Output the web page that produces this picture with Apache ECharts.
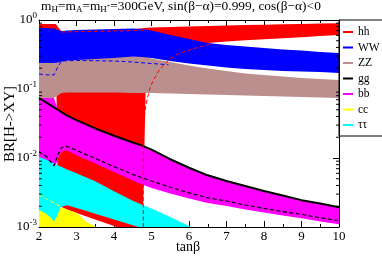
<!DOCTYPE html>
<html><head><meta charset="utf-8">
<script src="https://cdn.jsdelivr.net/npm/echarts@6/dist/echarts.min.js"></script>
<style>html,body{margin:0;padding:0;background:#fff}#c{width:382px;height:258px}</style>
</head><body><div id="c"></div>
<script>
// ---- data (tanβ grids and branching ratios) ----
const T = [2, 2.2, 2.4, 2.5, 2.6, 2.75, 3, 3.5, 4, 4.5, 4.75, 5, 5.5, 6, 6.5, 7, 7.5, 8, 8.5, 9, 9.5, 10];
const wwHi = [0.766, 0.766, 0.753, 0.716, 0.693, 0.704, 0.716, 0.728, 0.741, 0.753, 0.741, 0.704, 0.606, 0.530, 0.464, 0.434, 0.413, 0.393, 0.374, 0.361, 0.344, 0.332];
const wwLo = [0.238, 0.238, 0.238, 0.242, 0.250, 0.259, 0.263, 0.272, 0.281, 0.296, 0.291, 0.281, 0.255, 0.234, 0.219, 0.205, 0.195, 0.189, 0.182, 0.179, 0.176, 0.170];
const zzHi = [0.25, 0.25, 0.25, 0.255, 0.262, 0.27, 0.275, 0.284, 0.293, 0.308, 0.303, 0.277, 0.246, 0.219, 0.198, 0.182, 0.168, 0.160, 0.152, 0.144, 0.140, 0.135];
const zzLo = [0.0741, 0.0741, 0.0741, 0.0805, 0.0875, 0.089, 0.089, 0.089, 0.089, 0.0875, 0.0875, 0.0875, 0.0861, 0.0846, 0.0832, 0.0818, 0.0805, 0.0792, 0.0778, 0.0766, 0.0753, 0.0741];
const gg   = [0.0741, 0.0633, 0.0541, 0.05, 0.0461, 0.041, 0.0353, 0.0268, 0.021, 0.0168, 0.0151, 0.0132, 0.0096, 0.00723, 0.00561, 0.00463, 0.00392, 0.00332, 0.00286, 0.00245, 0.00219, 0.00193];
const bbHi = [0.0741, 0.0741, 0.0741, 0.05, 0.0461, 0.041, 0.0353, 0.0268, 0.021, 0.0168, 0.0151, 0.0132, 0.0096, 0.00723, 0.00561, 0.00463, 0.00392, 0.00332, 0.00286, 0.00245, 0.00219, 0.00193];
const bbMid = [0.0123, 0.0105, 0.00766, 0.0110, 0.0142, 0.0147, 0.0129, 0.00984, 0.0075, 0.0058, 0.00517, 0.00464, 0.00377, 0.00313, 0.00265, 0.00238, 0.00208, 0.00186, 0.00167, 0.00153, 0.00136, 0.00123];
const bbLo = [0.0085, 0.0075, 0.0062, 0.0097, 0.0124, 0.0128, 0.011, 0.0083, 0.00627, 0.00472, 0.00413, 0.00368, 0.00306, 0.00259, 0.00223, 0.00201, 0.00179, 0.00162, 0.00147, 0.00134, 0.0012, 0.0011];

const hhT  = [2, 2.45, 2.5, 2.6, 2.75, 3, 3.5, 4, 4.5, 4.76, 4.87, 5, 5.5, 6, 6.5, 7, 7.5, 8, 8.5, 9, 9.5, 10];
const hhHi = [0.875, 0.875, 0.80, 0.68, 0.68, 0.68, 0.68, 0.68, 0.73, 0.76, 0.77, 0.776, 0.792, 0.805, 0.818, 0.829, 0.843, 0.855, 0.866, 0.875, 0.887, 0.896];
const hhLo = [0.5, 0.5, 0.00201, 0.00195, 0.00179, 0.0016, 0.00128, 0.00103, 0.00082, 0.00072, 0.45, 0.45, 0.45, 0.45, 0.464, 0.488, 0.508, 0.527, 0.545, 0.563, 0.584, 0.606];
const hhMidT = [2.6, 3, 3.5, 4, 4.5, 4.85];
const hhMid  = [0.670, 0.677, 0.686, 0.693, 0.704, 0.716];
const hhMid2T = [4.78, 4.78, 4.83, 4.89, 4.96, 5.04, 5.17, 5.28, 5.49, 5.76, 6.1, 6.56];
const hhMid2  = [0.001, 0.0255, 0.0496, 0.0741, 0.1034, 0.1306, 0.176, 0.2084, 0.272, 0.332, 0.380, 0.449];
const wwMidT = [2, 2.2, 2.4, 2.5, 2.6, 3, 4, 4.5, 4.9, 5.2, 5.45];
const wwMid  = [0.165, 0.160, 0.160, 0.208, 0.2545, 0.259, 0.2545, 0.246, 0.236, 0.230, 0.225];

const tauT  = [2, 2.2, 2.3, 2.4, 2.5, 2.58, 2.75, 3, 3.5, 4, 4.5, 4.75, 5, 5.5, 6, 6.5];
const tauHi = [0.0103, 0.0094, 0.0088, 0.0083, 0.0078, 0.0075, 0.0068, 0.006, 0.0046, 0.0033, 0.0024, 0.0021, 0.00185, 0.0014, 0.00103, 0.00075];
const tauLo = [0.00176, 0.00154, 0.0014, 0.0012, 0.00152, 0.00195, 0.00206, 0.00188, 0.00155, 0.00128, 0.00106, 0.00097, 0.0008, 0.0006, 0.0004, 0.0003];

const ccT  = [2, 2.2, 2.4, 2.5, 2.6, 2.75, 3, 3.25, 3.5, 3.75];
const ccHi = [0.0019, 0.0018, 0.0017, 0.00195, 0.0019, 0.0018, 0.00161, 0.0012, 0.00102, 0.0008];
const ccLo = [0.0003, 0.0003, 0.0003, 0.0003, 0.0003, 0.0003, 0.0003, 0.0003, 0.0003, 0.0003];
const ccMidT = [2, 2.3, 2.59];
const ccMid  = [0.0029, 0.0024, 0.00195];

const xTicks = [2, 3, 4, 5, 6, 7, 8, 9, 10];
const yMinor = [0.002,0.003,0.004,0.005,0.006,0.007,0.008,0.009,0.02,0.03,0.04,0.05,0.06,0.07,0.08,0.09,0.2,0.3,0.4,0.5,0.6,0.7,0.8,0.9];
const legendNames = ['hh','WW','ZZ','gg','bb','cc','ττ'];
const colors = {hh:'#ff0000', WW:'#0000ff', ZZ:'#bc8f8f', gg:'#000000', bb:'#ff00ff', cc:'#ffff00', 'ττ':'#00ffff'};
const xName = 'tanβ';
const yName = 'BR[H->XY]';

// ---- rendering ----
const F = 'Liberation Serif';
function band(name, xs, hi, lo) {
  const data = xs.map((t, i) => [t, hi[i], lo[i]]);
  return {
    type: 'custom', name, data, clip: true, silent: true,
    itemStyle: {color: colors[name]},
    encode: {x: 0, y: [1, 2]},
    renderItem(params, api) {
      if (params.dataIndex !== 0) return null;
      const n = data.length, pts = [];
      for (let i = 0; i < n; i++) pts.push(api.coord([api.value(0, i), api.value(1, i)]));
      for (let i = n - 1; i >= 0; i--) pts.push(api.coord([api.value(0, i), api.value(2, i)]));
      const cs = params.coordSys;
      return {type: 'polygon', shape: {points: pts}, style: {fill: colors[name], stroke: null},
        clipPath: {type: 'rect', shape: {x: cs.x, y: cs.y, width: cs.width, height: cs.height}}};
    }
  };
}
function line(name, xs, ys, color, width, dashed) {
  return {type: 'line', name, data: xs.map((t, i) => [t, ys[i]]), showSymbol: false, symbol: 'none',
    silent: true, clip: true, z: 5,
    lineStyle: {color, width, type: dashed ? [4, 2.5] : 'solid'}};
}
const axisCommon = {
  axisLine: {show: true, lineStyle: {color: '#000', width: 1}},
  splitLine: {show: false},
};
const option = {
  animation: false,
  backgroundColor: '#fff',
  title: {
    left: 41, top: -2, padding: 0,
    text: '{a|m}{s|H}{a|=m}{s|A}{a|=m}{s|H}{p|+}{a|=300GeV, sin(β−α)=0.999, cos(β−α)<0}',
    textStyle: {fontWeight: 'normal', rich: {
      a: {fontFamily: F, fontSize: 13.4, fontWeight: 'normal', color: '#000', lineHeight: 15},
      s: {fontFamily: F, fontSize: 9, fontWeight: 'normal', color: '#000', padding: [7, 0, 0, 0]},
      p: {fontFamily: F, fontSize: 6, fontWeight: 'normal', color: '#000', padding: [0, 0, 0, 0]}
    }}
  },
  legend: {
    orient: 'vertical', left: 339, top: 20, padding: [6, 5, 5, 4], itemGap: 3.5,
    itemWidth: 10, itemHeight: 2, borderColor: '#000', borderWidth: 1, borderRadius: 0,
    selectedMode: false,
    textStyle: {fontFamily: F, fontSize: 11.5, color: '#000', lineHeight: 12, width: 22},
    data: legendNames.map(n => ({name: n, icon: 'rect', itemStyle: {color: colors[n]}}))
  },
  graphic: [
    {type: 'text', x: 188, y: 247.5, silent: true,
      style: {text: xName, fontFamily: F, fontSize: 14, fill: '#000', align: 'center', verticalAlign: 'middle'}},
    {type: 'text', x: 10, y: 124, rotation: Math.PI / 2, silent: true,
      style: {text: yName, fontFamily: F, fontSize: 15, fill: '#000', align: 'center', verticalAlign: 'middle'}}
  ],
  grid: {left: 39, right: 43, top: 20, bottom: 31, containLabel: false, outerBoundsMode: 'none'},
  xAxis: [
    Object.assign({type: 'value', min: 2, max: 10, interval: 1, position: 'bottom',
      axisTick: {show: true, inside: true, length: 6, lineStyle: {color: '#000'}},
      minorTick: {show: true, splitNumber: 2, length: 3, lineStyle: {color: '#000'}},
      axisLabel: {fontFamily: F, fontSize: 13, color: '#000', margin: 3,
        formatter: v => xTicks.includes(v) ? String(v) : ''}}, axisCommon),
    Object.assign({type: 'value', min: 2, max: 10, interval: 1, position: 'top',
      axisTick: {show: true, inside: true, length: 6, lineStyle: {color: '#000'}},
      minorTick: {show: true, splitNumber: 2, length: 3, lineStyle: {color: '#000'}},
      axisLabel: {show: false}}, axisCommon)
  ],
  yAxis: [
    Object.assign({type: 'log', logBase: 10, min: 0.001, max: 1, position: 'left',
      axisTick: {show: true, inside: true, length: 6, lineStyle: {color: '#000'}},
      axisLabel: {margin: 2, formatter: v => '{b|10}{s|' + Math.round(Math.log10(v)) + '}',
        rich: {b: {fontFamily: F, fontSize: 13, color: '#000'},
               s: {fontFamily: F, fontSize: 9, color: '#000', padding: [0, 0, 8, 0]}}}}, axisCommon),
    Object.assign({type: 'log', logBase: 10, min: 0.001, max: 1, position: 'right',
      axisTick: {show: true, inside: true, length: 6, lineStyle: {color: '#000'}},
      axisLabel: {show: false}}, axisCommon)
  ],
  series: [
    band('hh', hhT, hhHi, hhLo),
    band('ZZ', T, zzHi, zzLo),
    band('WW', T, wwHi, wwLo),
    band('bb', T, bbHi, bbLo),
    band('cc', ccT, ccHi, ccLo),
    band('ττ', tauT, tauHi, tauLo),
    line('gg', T, gg, '#000', 2, false),
    line('bb central', T, bbMid, '#000', 1.2, true),
    line('WW central', wwMidT, wwMid, '#0000ff', 1, true),
    line('hh central', hhMidT, hhMid, '#ff0000', 1, true),
    line('hh central 2', hhMid2T, hhMid2, '#ff0000', 1, true),
    line('cc central', ccMidT, ccMid, '#ffff00', 1, true),
    {type: 'custom', name: 'minor ticks', silent: true, z: 6,
      data: yMinor.map(v => [2, v]),
      renderItem(params, api) {
        const y = api.coord([2, api.value(1)])[1];
        const cs = params.coordSys;
        return {type: 'group', children: [
          {type: 'line', shape: {x1: cs.x, y1: y, x2: cs.x + 3, y2: y}, style: {stroke: '#000', lineWidth: 1}},
          {type: 'line', shape: {x1: cs.x + cs.width, y1: y, x2: cs.x + cs.width - 3, y2: y}, style: {stroke: '#000', lineWidth: 1}}
        ]};
      }}
  ]
};
const chart = echarts.init(document.getElementById('c'), null, {renderer: 'canvas'});
chart.setOption(option);
</script></body></html>
